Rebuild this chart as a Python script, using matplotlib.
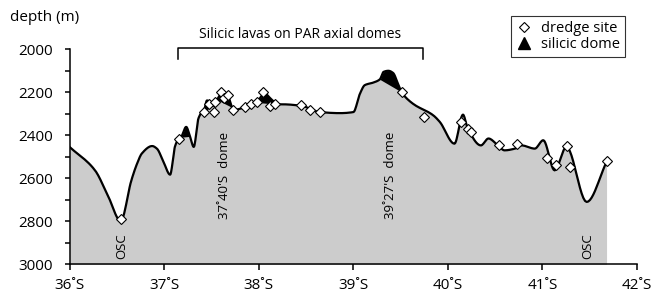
import numpy as np
import matplotlib
matplotlib.use("Agg")
import matplotlib.pyplot as plt
from matplotlib.lines import Line2D

plt.rcParams["font.family"] = ["Open Sans", "DejaVu Sans"]

# axial depth profile along the ridge (lat °S, depth m)
profile_lat = [36.00, 36.265, 36.40, 36.537, 36.65, 36.71, 36.76, 36.87, 36.92, 36.99,
               37.06, 37.09, 37.11, 37.155, 37.175, 37.23, 37.27, 37.31, 37.36, 37.40,
               37.415, 37.45, 37.49, 37.52, 37.556, 37.60, 37.643, 37.68, 37.714, 37.73,
               37.80, 37.92, 37.975, 38.06, 38.13, 38.20, 38.25, 38.45, 38.645, 38.857,
               39.00, 39.07, 39.12, 39.21, 39.28, 39.32, 39.37, 39.42, 39.47, 39.51,
               39.63, 39.845, 39.915, 40.07, 40.16, 40.21, 40.35, 40.43, 40.53, 40.60,
               40.71, 40.78, 40.92, 41.01, 41.13, 41.255, 41.47, 41.68]
profile_depth = [2456, 2563, 2679, 2798, 2609, 2532, 2485, 2450, 2462, 2524,
                 2583, 2516, 2454, 2415, 2409, 2361, 2405, 2454, 2321, 2292,
                 2290, 2238, 2250, 2262, 2235, 2208, 2204, 2225, 2270, 2284,
                 2276, 2262, 2247, 2206, 2232, 2256, 2256, 2263, 2292, 2297,
                 2292, 2206, 2167, 2155, 2140, 2105, 2100, 2110, 2158, 2199,
                 2253, 2307, 2338, 2439, 2304, 2367, 2447, 2415, 2447, 2470,
                 2462, 2447, 2462, 2423, 2563, 2454, 2710, 2524]

# dredge sites
dredge_lat = [36.537, 37.155, 37.415, 37.52, 37.47, 37.54, 37.60, 37.63, 37.67, 37.73,
              37.85, 37.92, 37.98, 38.045, 38.116, 38.17, 38.45, 38.54, 38.645, 39.51,
              39.75, 40.14, 40.215, 40.24, 40.54, 40.73, 41.045, 41.15, 41.26, 41.29,
              41.68]
dredge_depth = [2787, 2415, 2292, 2292, 2253, 2245, 2198, 2225, 2212, 2284,
                2268, 2256, 2245, 2201, 2265, 2256, 2260, 2284, 2294, 2199,
                2315, 2338, 2369, 2385, 2443, 2439, 2504, 2540, 2451, 2547,
                2520]

# silicic domes (lat ranges on the profile)
dome_start = [37.175, 37.415, 37.556, 37.975, 39.28]
dome_end = [37.27, 37.52, 37.714, 38.20, 39.51]

# vertical annotations
note_lat = [36.547, 37.64, 39.39, 41.48]
note_text = ["OSC", "37˚40'S  dome", "39˚27'S  dome", "OSC"]
note_depth = [2915, 2585, 2585, 2915]

x_ticks = [36, 37, 38, 39, 40, 41, 42]


def smooth(x, y, n=12):
    # monotone cubic (pchip) through the points, only for drawing
    x = np.asarray(x, float)
    y = np.asarray(y, float)
    h = np.diff(x)
    d = np.diff(y) / h
    m = np.zeros_like(y)
    m[0], m[-1] = d[0], d[-1]
    for k in range(1, len(x) - 1):
        if d[k - 1] * d[k] > 0:
            w1 = 2 * h[k] + h[k - 1]
            w2 = h[k] + 2 * h[k - 1]
            m[k] = (w1 + w2) / (w1 / d[k - 1] + w2 / d[k])
    xs, ys = [], []
    for k in range(len(x) - 1):
        t = np.linspace(0, 1, n, endpoint=False)
        h00 = 2 * t**3 - 3 * t**2 + 1
        h10 = t**3 - 2 * t**2 + t
        h01 = -2 * t**3 + 3 * t**2
        h11 = t**3 - t**2
        xs.append(x[k] + t * h[k])
        ys.append(h00 * y[k] + h10 * h[k] * m[k] + h01 * y[k + 1] + h11 * h[k] * m[k + 1])
    xs.append([x[-1]])
    ys.append([y[-1]])
    return np.concatenate(xs), np.concatenate(ys)


fig = plt.figure(figsize=(6.56, 2.95), dpi=100)
ax = fig.add_axes([0.1067, 0.104, 0.864, 0.729])

lat, depth = smooth(profile_lat, profile_depth)

ax.fill_between(lat, depth, 3000, color="#cccccc", linewidth=0)

for s, e in zip(dome_start, dome_end):
    m = (lat >= s - 1e-9) & (lat <= e + 1e-9)
    xs = lat[m]
    chord = np.interp(xs, [s, e], [np.interp(s, lat, depth), np.interp(e, lat, depth)])
    ax.fill_between(xs, depth[m], chord, color="black", linewidth=0)

ax.plot(lat, depth, color="black", linewidth=1.6, solid_joinstyle="round")
ax.plot(dredge_lat, dredge_depth, linestyle="none", marker="D", markersize=4.6,
        markerfacecolor="white", markeredgecolor="black", markeredgewidth=0.8)

for x, t, d in zip(note_lat, note_text, note_depth):
    ax.text(x, d, t, rotation=90, ha="center", va="center", fontsize=9.5)

ax.set_xlim(36, 42)
ax.set_ylim(3000, 2000)
ax.set_xticks(x_ticks)
ax.set_xticklabels([f"{v}˚S" for v in x_ticks])
ax.set_yticks(np.arange(2000, 3001, 200))
ax.set_yticks(np.arange(2100, 3000, 200), minor=True)
ax.tick_params(axis="y", which="both", direction="out", length=3.5, width=1.1,
               pad=9, labelsize=11)
ax.tick_params(axis="x", direction="out", length=4, width=1.1, pad=6, labelsize=11)
for side in ("top", "right"):
    ax.spines[side].set_visible(False)
for side in ("left", "bottom"):
    ax.spines[side].set_linewidth(1.1)

fig.text(0.015, 0.94, "depth (m)", fontsize=11, va="center", ha="left")

# bracket over the silicic lavas section
br_left, br_right, br_depth, br_drop = 37.14, 39.74, 1995, 2045
ax.plot([br_left, br_left, br_right, br_right], [br_drop, br_depth, br_depth, br_drop],
        color="black", linewidth=1.1, clip_on=False)
ax.text((br_left + br_right) / 2, 1930, "Silicic lavas on PAR axial domes",
        ha="center", va="center", fontsize=10)

handles = [
    Line2D([], [], linestyle="none", marker="D", markersize=4.6, markerfacecolor="white",
           markeredgecolor="black", markeredgewidth=0.8, label="dredge site"),
    Line2D([], [], linestyle="none", marker="^", markersize=9, color="black",
           label="silicic dome"),
]
leg = ax.legend(handles=handles, loc="upper right", bbox_to_anchor=(0.953, 0.947),
                bbox_transform=fig.transFigure, frameon=True, fancybox=False,
                fontsize=10.5, handlelength=1.0, handletextpad=0.7, borderpad=0.35,
                labelspacing=0.1, borderaxespad=0)
leg.get_frame().set_edgecolor("black")
leg.get_frame().set_linewidth(0.8)

fig.savefig("out.png", dpi=100)
